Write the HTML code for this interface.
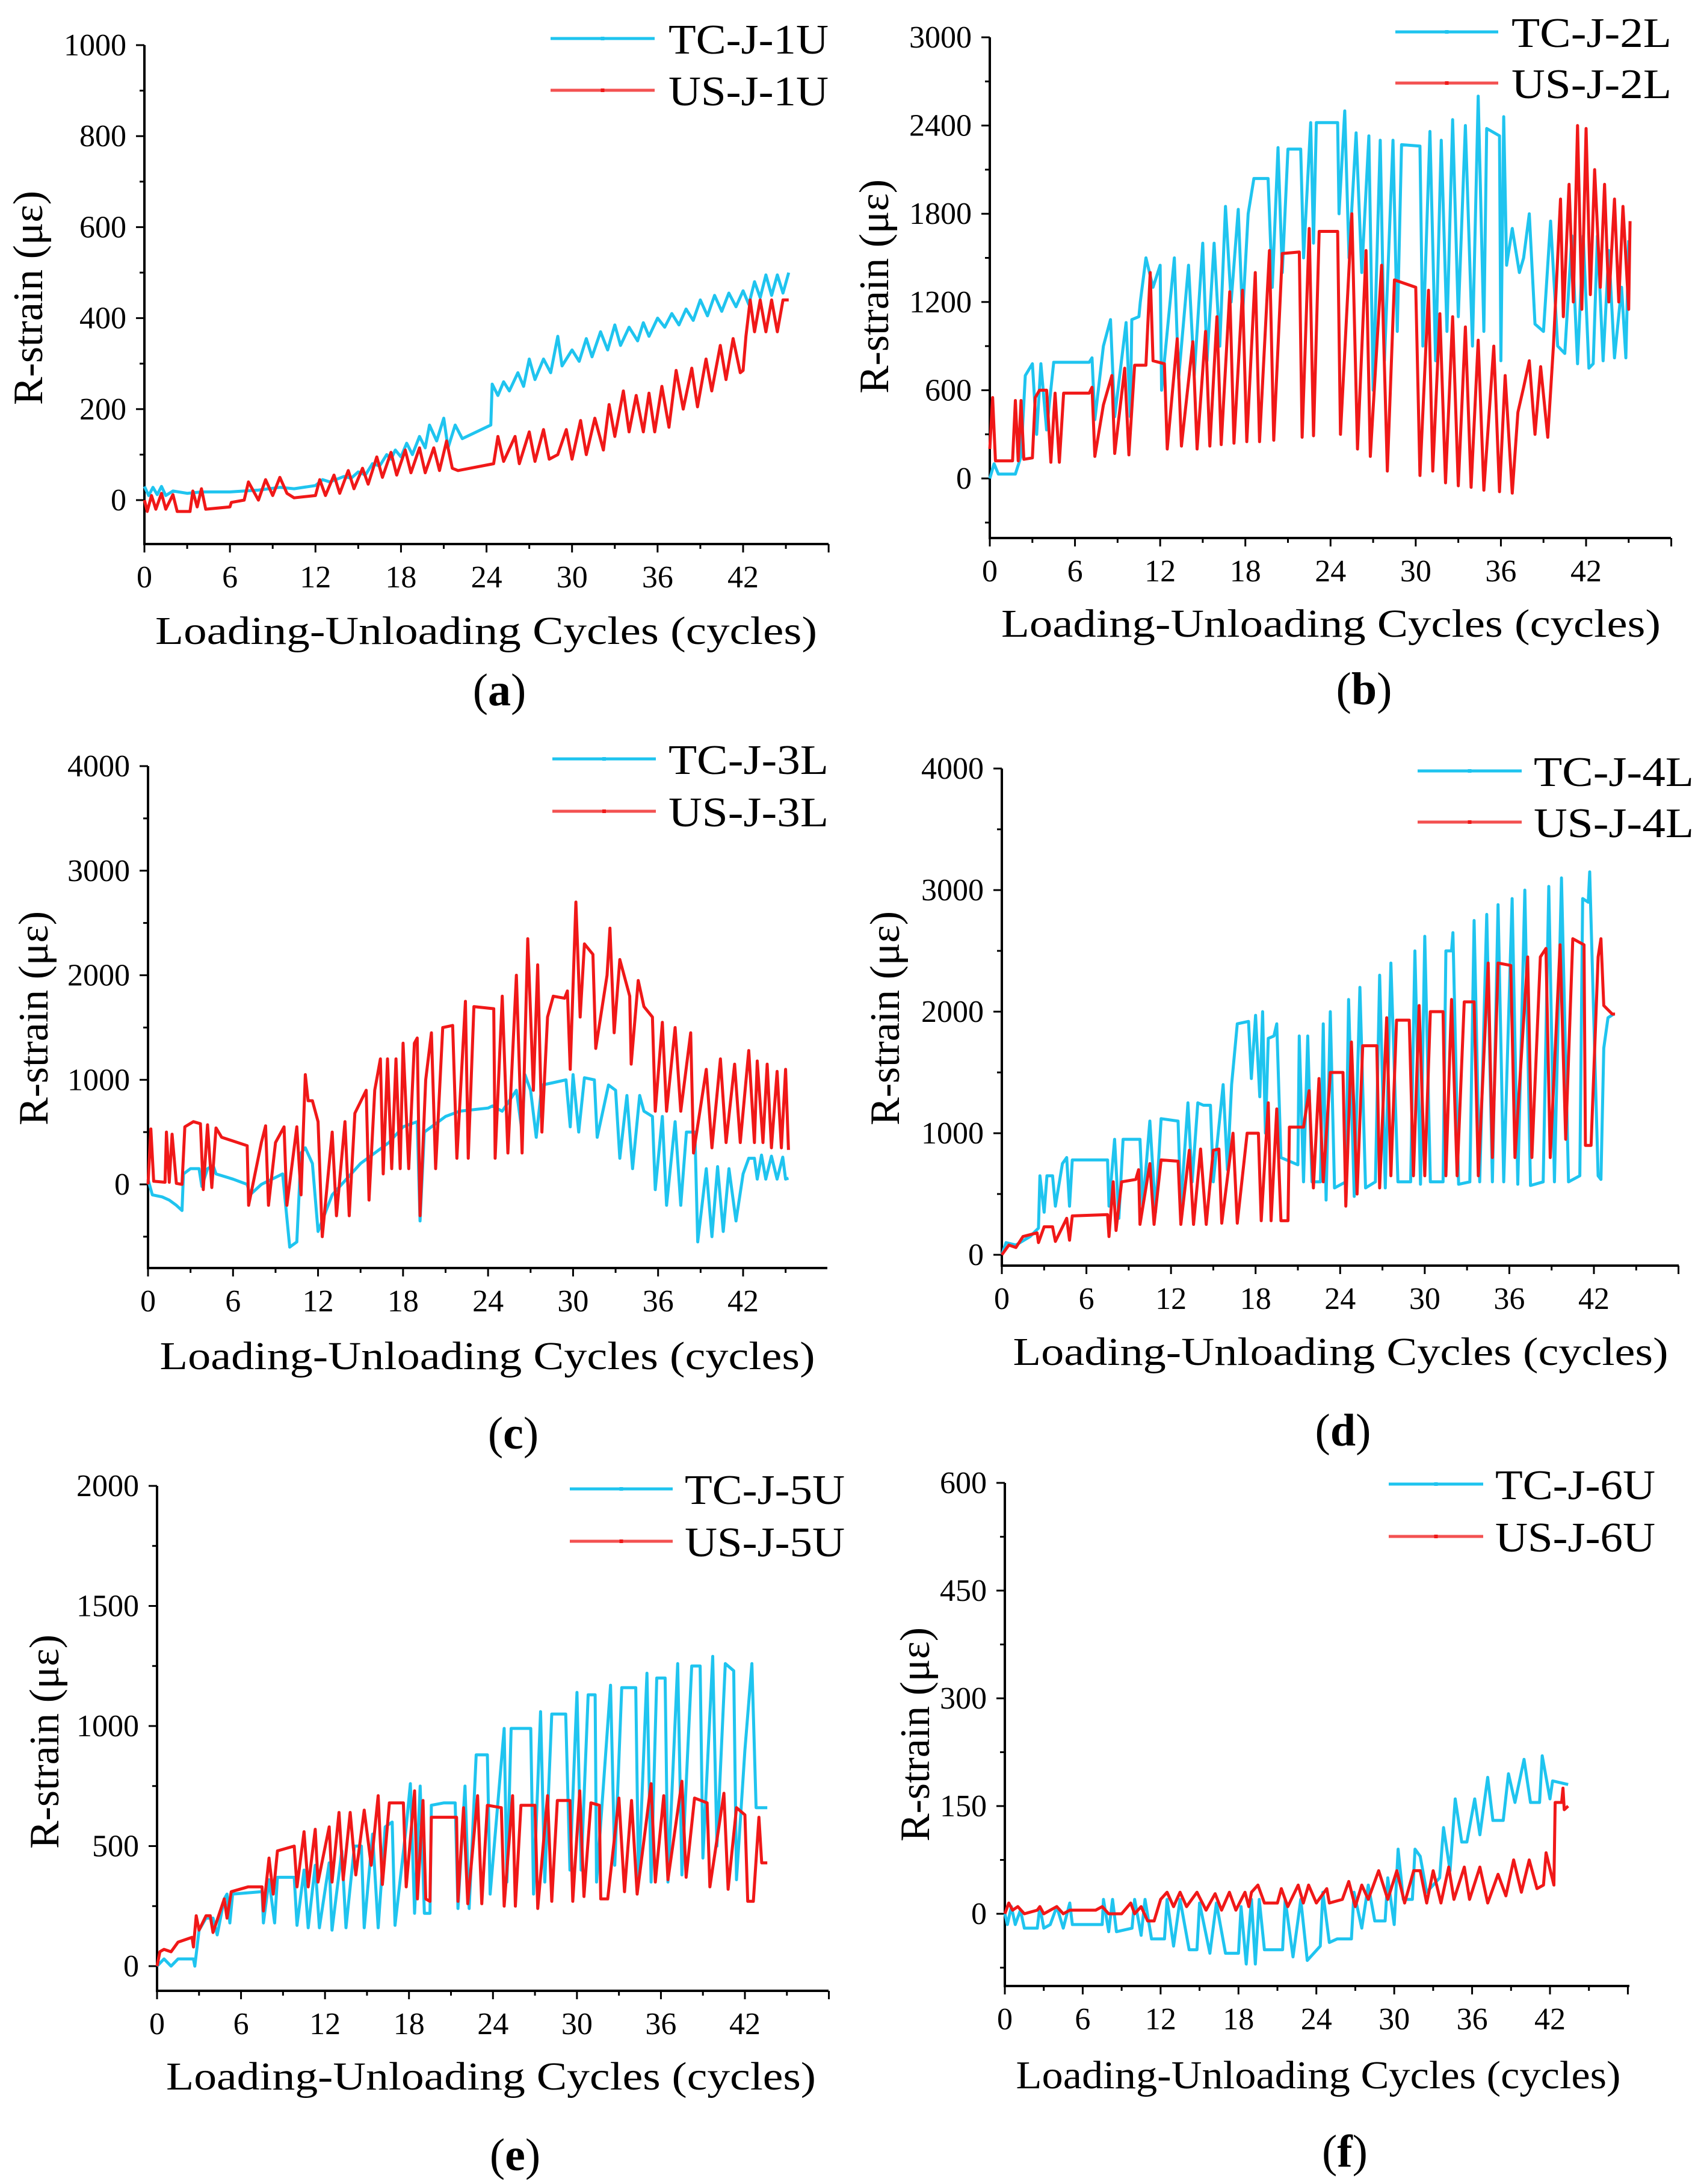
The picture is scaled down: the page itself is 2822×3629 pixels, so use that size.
<!DOCTYPE html>
<html><head><meta charset="utf-8"><style>
html,body{margin:0;padding:0;background:#fff}
svg{display:block}
text{font-family:"Liberation Serif",serif;fill:#000}
</style></head><body>
<svg id="fig" width="2822" height="3629" viewBox="0 0 2822 3629" xmlns="http://www.w3.org/2000/svg" font-family="Liberation Serif, serif"></svg>
<script>
// ---------- DATA: [cycle, strain(με)] ----------
const aTC=[[0,30],[0.3,10],[0.6,28],[0.9,12],[1.2,30],[1.5,10],[2,20],[3,15],[4,18],[6,18],[8,22],[9.5,28],[10.5,25],[12,32],[12.5,45],[13,40],[14,52],[14.5,48],[15,62],[15.5,55],[16,80],[16.5,75],[17,100],[17.3,90],[17.6,110],[18,95],[18.4,125],[18.8,100],[19.3,140],[19.7,115],[20,165],[20.5,130],[21,180],[21.3,115],[21.8,165],[22.3,135],[24.3,165],[24.4,255],[24.8,230],[25.2,260],[25.6,240],[26.2,280],[26.6,250],[27,310],[27.4,265],[28,310],[28.5,280],[29,360],[29.3,295],[30,330],[30.5,305],[31,355],[31.4,315],[32,370],[32.5,330],[33,385],[33.4,340],[34,380],[34.6,350],[35,390],[35.4,360],[36,400],[36.5,380],[37,410],[37.5,385],[38,420],[38.5,395],[39,440],[39.5,405],[40,450],[40.5,415],[41,455],[41.5,425],[42,460],[42.4,430],[42.8,480],[43.2,445],[43.6,495],[44,450],[44.4,495],[44.8,455],[45.2,500]];
const aUS=[[0,0],[0.2,-25],[0.5,10],[0.8,-20],[1.2,15],[1.5,-20],[2,12],[2.3,-25],[3.2,-25],[3.4,20],[3.7,-15],[4,25],[4.3,-20],[6,-15],[6.1,-5],[7,0],[7.3,40],[8,0],[8.5,45],[9,10],[9.5,50],[10,15],[10.5,5],[12,10],[12.3,45],[12.7,10],[13.3,55],[13.7,15],[14.3,65],[14.7,25],[15.3,70],[15.7,35],[16.3,95],[16.7,50],[17.3,105],[17.7,55],[18.3,110],[18.7,60],[19.3,115],[19.7,60],[20.3,115],[20.7,65],[21.2,130],[21.6,70],[22,65],[24.5,80],[24.8,140],[25.2,85],[26,140],[26.3,80],[27,150],[27.4,85],[28,155],[28.4,90],[29,100],[29.6,155],[30,90],[30.6,175],[31,100],[31.6,180],[32.2,110],[32.6,210],[33,140],[33.6,240],[34,150],[34.5,230],[35,150],[35.4,235],[35.8,150],[36.3,250],[36.8,160],[37.3,285],[37.8,200],[38.4,290],[38.8,205],[39.4,310],[39.8,240],[40.4,340],[40.8,265],[41.3,355],[41.8,280],[42,285],[42.2,360],[42.5,440],[42.8,370],[43.2,440],[43.6,370],[44,440],[44.4,370],[44.8,440],[45.2,440]];
const bTC=[[0,0],[0.3,100],[0.6,30],[1.8,30],[2.2,150],[2.5,700],[3,780],[3.3,300],[3.6,780],[4,330],[4.5,790],[7,790],[7.2,820],[7.4,400],[8,900],[8.5,1080],[8.8,420],[9.6,1060],[9.9,420],[10,1080],[10.5,1100],[10.6,1200],[11,1500],[11.5,1300],[12,1450],[12.1,600],[13,1500],[13.3,680],[14,1450],[14.4,700],[15,1600],[15.3,800],[15.8,1600],[16.2,900],[16.6,1850],[17,1200],[17.5,1830],[17.8,1100],[18.2,1800],[18.6,2040],[19.6,2040],[19.9,1300],[20.3,2250],[20.6,1400],[21,2240],[21.9,2240],[22.1,1500],[22.6,2420],[22.8,1600],[23,2420],[24.5,2420],[24.6,1800],[25,2500],[25.3,1500],[25.8,2350],[26.2,1400],[26.7,2330],[27,600],[27.5,2300],[27.8,800],[28.4,2300],[28.7,1000],[29,2270],[30.3,2260],[30.5,900],[31,2360],[31.4,800],[31.8,2300],[32.2,1000],[32.6,2440],[33,1100],[33.5,2400],[34,900],[34.4,2600],[34.8,1000],[35,2380],[35.9,2330],[36,800],[36.2,2460],[36.4,1450],[36.8,1700],[37.3,1400],[37.6,1500],[38,1800],[38.4,1050],[39,1000],[39.5,1750],[40,900],[40.5,850],[41,1650],[41.4,780],[41.8,1650],[42.2,750],[42.5,780],[42.8,1650],[43.2,800],[43.6,1550],[44,820],[44.5,1300],[44.8,820],[45,1620]];
const bUS=[[0,200],[0.2,550],[0.4,120],[1.6,120],[1.8,530],[2,120],[2.2,530],[2.4,130],[3,140],[3.2,550],[3.5,600],[4,600],[4.3,110],[4.6,580],[4.9,110],[5.2,580],[7,580],[7.2,620],[7.4,150],[8,500],[8.6,700],[8.8,170],[9.5,750],[9.8,160],[10.2,770],[11,770],[11.3,1400],[11.5,800],[12.3,780],[12.5,200],[13.2,950],[13.5,220],[14.3,930],[14.6,200],[15.2,1000],[15.5,220],[16,1100],[16.3,230],[16.9,1270],[17.2,240],[17.8,1280],[18.1,250],[18.7,1400],[19,250],[19.7,1550],[20,260],[20.6,1530],[21.8,1540],[22,280],[22.5,1700],[22.8,290],[23.2,1680],[24.5,1680],[24.7,300],[25.5,1800],[25.9,200],[26.5,1550],[26.8,150],[27.6,1450],[28,50],[28.5,1350],[30,1300],[30.3,20],[30.9,1280],[31.2,50],[31.7,1120],[32.1,-30],[32.6,1100],[33,-50],[33.5,1030],[33.9,-60],[34.4,940],[34.8,-80],[35.5,900],[35.9,-90],[36.3,700],[36.8,-100],[37.2,450],[37.6,620],[38,800],[38.4,300],[38.8,760],[39.3,280],[39.7,900],[40.2,1900],[40.4,1100],[40.8,2000],[41.1,1200],[41.4,2400],[41.7,1150],[42,2380],[42.3,1250],[42.6,2100],[43,1300],[43.3,2000],[43.6,1200],[44,1900],[44.3,1200],[44.6,1850],[45,1150],[45.1,1750]];
const cTC=[[0,50],[0.3,-100],[1,-120],[1.5,-150],[2,-200],[2.4,-250],[2.5,100],[3,150],[3.6,150],[3.8,-20],[4.2,150],[4.6,180],[4.8,100],[6,50],[7,0],[7.2,-100],[8,0],[9.5,100],[10,-600],[10.5,-550],[10.8,300],[11.1,350],[11.6,200],[12,-450],[13,-100],[14,50],[15,200],[16,300],[17,400],[18,550],[19,600],[19.2,-350],[19.5,500],[20.5,600],[21,650],[22,700],[24,730],[24.3,750],[25,700],[26,900],[26.4,500],[26.6,1050],[27,900],[27.4,450],[27.8,950],[28.5,970],[29.5,1000],[29.8,550],[30,1050],[30.4,500],[30.8,1020],[31.5,1000],[31.7,450],[32.5,950],[33,900],[33.3,250],[33.8,850],[34.2,150],[34.7,850],[35,700],[35.6,650],[35.8,-50],[36.3,650],[36.6,-200],[37.2,600],[37.6,-200],[38,500],[38.6,500],[38.8,-550],[39.4,150],[39.8,-500],[40.2,170],[40.6,-450],[41,150],[41.5,-350],[42,100],[42.4,250],[42.8,250],[43,50],[43.3,280],[43.6,50],[44,270],[44.4,50],[44.8,260],[45,50],[45.2,60]];
const cUS=[[0,0],[0.2,530],[0.4,30],[1.2,20],[1.3,500],[1.5,20],[1.7,480],[2,10],[2.4,0],[2.6,550],[3.2,600],[3.7,580],[3.9,-50],[4.2,570],[4.5,-30],[4.8,540],[5.2,450],[7,370],[7.1,-200],[8,400],[8.3,560],[8.5,-200],[9,400],[9.6,550],[9.8,-200],[10.5,550],[10.8,-100],[11.1,1050],[11.3,800],[11.6,800],[12,600],[12.3,-500],[13,500],[13.3,-300],[13.9,600],[14.2,-300],[14.6,680],[15.4,900],[15.6,-150],[16,900],[16.4,1200],[16.6,100],[16.9,1200],[17.2,150],[17.5,1200],[17.8,150],[18,1350],[18.4,150],[18.8,1350],[19,1400],[19.2,-300],[19.6,1000],[20,1450],[20.3,150],[20.8,1500],[21.5,1520],[21.8,250],[22.4,1750],[22.6,250],[23,1700],[24.4,1680],[24.5,250],[25,1800],[25.4,300],[26,2000],[26.4,300],[26.8,2350],[27.2,900],[27.5,2100],[27.8,500],[28.2,1600],[28.6,1800],[29.4,1780],[29.6,1850],[29.8,1100],[30.2,2700],[30.5,1600],[30.8,2300],[31.4,2200],[31.6,1300],[32.4,2000],[32.6,2450],[32.9,1450],[33.3,2150],[34,1800],[34.1,1150],[34.6,1950],[35,1700],[35.6,1600],[35.8,700],[36.3,1550],[36.6,700],[37.2,1500],[37.6,700],[38.3,1450],[38.5,300],[39.4,1100],[39.8,350],[40.4,1200],[40.8,400],[41.4,1150],[41.8,400],[42.4,1280],[42.8,400],[43,1180],[43.4,400],[43.7,1150],[44,350],[44.4,1080],[44.7,350],[45,1100],[45.2,330]];
const dTC=[[0,0],[0.3,100],[1,80],[2,150],[2.6,220],[2.7,650],[3,350],[3.2,650],[3.6,650],[3.8,400],[4.3,750],[4.6,800],[4.8,400],[5,780],[7.5,780],[7.6,400],[8,950],[8.3,300],[8.6,950],[9.8,950],[10,400],[10.5,1100],[10.9,350],[11.3,1120],[12.5,1100],[12.7,400],[13.2,1250],[13.5,600],[13.9,1250],[14.3,1230],[14.8,1230],[15,600],[15.7,1400],[16,700],[16.3,1400],[16.7,1900],[17.5,1920],[17.7,1450],[18,1970],[18.3,1300],[18.5,2000],[18.7,1000],[18.9,1780],[19.3,1800],[19.5,1900],[19.8,800],[21,740],[21.1,1800],[21.4,600],[21.7,1800],[22,600],[22.6,600],[22.8,1900],[23,450],[23.3,2000],[23.6,550],[24.4,600],[24.6,2100],[25,480],[25.4,2200],[25.8,550],[26.5,600],[26.8,2300],[27.2,550],[27.6,2400],[28.1,600],[29,600],[29.3,2500],[29.7,580],[30,2620],[30.4,600],[31.3,600],[31.5,2500],[31.9,2500],[32,2650],[32.4,580],[33.2,600],[33.5,2750],[33.9,600],[34.4,2800],[34.8,600],[35.2,2880],[35.6,600],[36.2,2930],[36.6,580],[37.1,3000],[37.5,570],[38.4,600],[38.8,3030],[39.2,600],[39.7,3100],[40.2,600],[41,650],[41.2,2930],[41.6,2900],[41.7,3150],[42.3,650],[42.5,620],[42.7,1700],[43,1950],[43.4,1980]];
const dUS=[[0,0],[0.5,80],[1,60],[1.5,150],[2.5,180],[2.6,100],[3,230],[3.6,230],[3.8,110],[4.6,300],[4.8,120],[5,320],[7.5,330],[7.6,150],[7.9,600],[8.1,200],[8.5,600],[9.5,620],[9.7,700],[9.8,250],[10.5,750],[10.8,250],[11.3,780],[12.5,770],[12.7,250],[13.3,860],[13.6,250],[14.1,870],[14.5,250],[15,860],[15.4,870],[15.6,260],[16.4,1000],[16.7,260],[17.4,1000],[18.2,1000],[18.4,280],[18.9,1250],[19.1,280],[19.5,1200],[19.8,280],[20.3,280],[20.4,1050],[21.4,1050],[21.8,1350],[22.1,550],[22.5,1450],[22.8,600],[23.3,1500],[24.2,1500],[24.4,400],[24.8,1750],[25.2,500],[25.6,1720],[26.6,1720],[26.8,550],[27.3,1950],[27.6,650],[28,1930],[28.9,1930],[29.2,650],[29.6,2050],[30,650],[30.4,2000],[31.3,2000],[31.5,650],[31.9,2100],[32.3,650],[32.8,2080],[33.5,2080],[33.8,650],[34.5,2400],[34.8,800],[35.2,2400],[36.1,2380],[36.4,800],[37.3,2450],[37.6,800],[38.2,2450],[38.6,2520],[38.9,800],[39.6,2550],[40,950],[40.5,2600],[41.3,2550],[41.4,900],[41.8,900],[42.3,2450],[42.5,2600],[42.7,2050],[43.3,1980],[43.5,1980]];
const eTC=[[0,0],[0.5,30],[1,0],[1.5,30],[2.6,30],[2.7,0],[3,150],[3.5,200],[4,200],[4.3,130],[4.8,280],[5,300],[5.2,180],[5.4,300],[7.5,310],[7.6,180],[8,360],[8.4,180],[8.6,370],[9.8,370],[10,170],[10.5,400],[10.8,160],[11.3,420],[11.6,160],[12.3,430],[12.5,150],[13.2,480],[13.5,160],[14.1,500],[14.6,500],[14.8,160],[15.4,550],[15.8,160],[16.3,580],[16.8,600],[17,170],[17.8,580],[18.1,760],[18.4,220],[18.8,750],[19.1,220],[19.5,220],[19.6,670],[20.5,680],[21.3,680],[21.5,240],[22,750],[22.3,240],[22.8,880],[23.6,880],[23.8,300],[24.8,990],[25,350],[25.3,990],[26.7,990],[26.9,300],[27.4,1060],[27.7,350],[28.2,1050],[29.2,1050],[29.5,400],[30,1140],[30.3,400],[30.8,1130],[31.3,1130],[31.4,350],[32.4,1170],[32.7,420],[33.2,1160],[34.2,1160],[34.4,350],[35,1220],[35.3,350],[35.7,1200],[36.3,1200],[36.5,350],[37.2,1260],[37.5,380],[38.2,1250],[38.8,1250],[39,450],[39.7,1290],[40,500],[40.6,1260],[41.2,1230],[41.4,360],[42,900],[42.5,1260],[42.8,660],[43.6,660]];
const eUS=[[0,0],[0.2,60],[0.5,70],[1,60],[1.5,100],[2.5,120],[2.6,80],[2.8,210],[3,150],[3.5,210],[3.8,210],[4,140],[4.8,280],[5,200],[5.3,310],[6.5,330],[7.5,330],[7.6,230],[8,450],[8.3,300],[8.6,480],[9.8,500],[10,330],[10.5,560],[10.8,330],[11.3,570],[11.5,350],[12.3,580],[12.5,350],[13,640],[13.3,360],[13.8,640],[14.2,380],[14.8,650],[15.3,420],[15.8,710],[16.1,340],[16.6,680],[17.6,680],[17.8,330],[18.4,730],[18.6,280],[19,690],[19.2,280],[19.5,270],[19.6,620],[21.4,620],[21.5,270],[21.9,660],[22.2,260],[22.9,710],[23.2,260],[23.6,670],[24.6,660],[24.8,250],[25.4,710],[25.6,250],[26,670],[27,670],[27.2,240],[27.9,710],[28.2,270],[28.6,690],[29.5,690],[29.7,270],[30.2,730],[30.5,290],[31,680],[31.6,670],[31.7,280],[32.2,280],[33,700],[33.4,310],[33.9,690],[34.3,300],[35.3,760],[35.6,350],[36.2,710],[36.5,360],[37.5,770],[37.8,370],[38.4,700],[39.3,680],[39.5,330],[40.5,720],[40.8,320],[41.4,660],[42,630],[42.2,270],[42.6,270],[43,620],[43.2,430],[43.6,430]];
const fTC=[[0,0],[0.2,-15],[0.5,10],[0.8,-15],[1.2,5],[1.5,-20],[2.5,-20],[2.7,10],[3,-20],[3.5,-15],[4,10],[4.5,-20],[5,15],[5.2,-15],[7.5,-15],[7.6,20],[8,-25],[8.3,20],[8.6,-25],[9.8,-20],[10,20],[10.5,-30],[10.8,20],[11.3,-35],[12.3,-35],[12.5,20],[13,-45],[13.5,20],[14.2,-50],[14.8,-50],[15,15],[15.8,-55],[16.3,15],[17,-55],[18,-55],[18.2,10],[18.6,-70],[19,20],[19.3,-70],[19.6,20],[20,-50],[21.4,-50],[21.6,20],[22.2,-60],[22.8,20],[23.3,-65],[24.3,-45],[24.5,30],[25,-40],[25.6,-35],[26.7,-35],[26.9,30],[27.5,-20],[28,40],[28.5,-10],[29.3,-10],[29.5,50],[30,-15],[30.3,90],[30.7,20],[31.4,20],[31.6,90],[32,80],[32.5,30],[33.5,50],[33.8,120],[34.3,60],[34.7,160],[35.2,100],[35.6,100],[36.2,160],[36.6,110],[37.2,190],[37.6,130],[38.4,130],[38.8,195],[39.3,155],[40,215],[40.5,155],[41.2,155],[41.4,220],[42,160],[42.2,185],[43.4,180]];
const fUS=[[0,0],[0.3,15],[0.6,5],[1,10],[1.5,0],[2.5,5],[2.7,10],[3,0],[4,10],[4.5,0],[5,5],[7,5],[7.5,10],[8,0],[9,0],[9.7,15],[10,0],[10.5,10],[11,-10],[11.5,-10],[12,20],[12.5,30],[13,10],[13.5,30],[14,10],[14.8,30],[15.5,5],[16.2,28],[16.7,5],[17.3,30],[17.8,5],[18.5,30],[18.8,10],[19,30],[19.5,40],[20,15],[21,15],[21.3,35],[21.8,10],[22.6,40],[23,15],[23.4,40],[24,15],[24.8,35],[25,15],[26,20],[26.5,45],[27,10],[27.5,40],[28,20],[28.8,60],[29.5,20],[30.2,60],[30.8,15],[31.5,60],[32,60],[32.5,15],[33,60],[33.6,15],[34.2,65],[34.6,20],[35.4,65],[35.8,20],[36.6,65],[37.2,15],[38,55],[38.6,25],[39.2,75],[39.8,30],[40.4,75],[41,35],[41.5,40],[41.7,85],[42.3,40],[42.4,155],[42.9,155],[43,175],[43.1,145],[43.4,150]];
const xTicks=[0,6,12,18,24,30,36,42];
const aYTicks=[0,200,400,600,800,1000];
const bYTicks=[0,600,1200,1800,2400,3000];
const cYTicks=[0,1000,2000,3000,4000];
const dYTicks=[0,1000,2000,3000,4000];
const eYTicks=[0,500,1000,1500,2000];
const fYTicks=[0,150,300,450,600];
const legendNames=[["TC-J-1U","US-J-1U"],["TC-J-2L","US-J-2L"],["TC-J-3L","US-J-3L"],["TC-J-4L","US-J-4L"],["TC-J-5U","US-J-5U"],["TC-J-6U","US-J-6U"]];
const captions=["a","b","c","d","e","f"];

// ---------- LAYOUT ----------
const panels=[
 {id:"a",ax:240,x42:1235,xr:1377,y0:831,yTopPx:75,yTopV:1000,yb:904,minor:100,tc:aTC,us:aUS,ticks:aYTicks,leg:[915,1088,64,150,1111],yt:[46,495],xt:[808,1070,1100],cap:[830,1172]},
 {id:"b",ax:1645,x42:2636,xr:2777,y0:795,yTopPx:62,yTopV:3000,yb:894,minor:300,tc:bTC,us:bUS,ticks:bYTicks,leg:[2319,2490,53,138,2512],yt:[1452,476],xt:[2212,1058,1096],cap:[2267,1170]},
 {id:"c",ax:246,x42:1235,xr:1375,y0:1968,yTopPx:1273,yTopV:4000,yb:2107,minor:500,tc:cTC,us:cUS,ticks:cYTicks,leg:[918,1090,1261,1348,1111],yt:[55,1692],xt:[810,2275,1089],cap:[853,2407]},
 {id:"d",ax:1665,x42:2649,xr:2790,y0:2085,yTopPx:1277,yTopV:4000,yb:2103,minor:500,tc:dTC,us:dUS,ticks:dYTicks,leg:[2356,2529,1281,1366,2549],yt:[1470,1692],xt:[2228,2268,1089],cap:[2232,2402]},
 {id:"e",ax:261,x42:1238,xr:1377,y0:3267,yTopPx:2469,yTopV:2000,yb:3308,minor:250,tc:eTC,us:eUS,ticks:eYTicks,leg:[947,1118,2474,2561,1138],yt:[73,2894],xt:[816,3472,1080],cap:[856,3606]},
 {id:"f",ax:1670,x42:2576,xr:2708,y0:3180,yTopPx:2464,yTopV:600,yb:3300,minor:75,tc:fTC,us:fUS,ticks:fYTicks,leg:[2308,2465,2466,2553,2485],yt:[1520,2882],xt:[2191,3470,1005],cap:[2235,3600]}
];
const NS="http://www.w3.org/2000/svg";
const svg=document.getElementById("fig");
function mk(tag,attrs,parent){const e=document.createElementNS(NS,tag);for(const k in attrs)e.setAttribute(k,attrs[k]);(parent||svg).appendChild(e);return e;}
const CY="#1fc4ef",RD="#f01818";
panels.forEach((p,i)=>{
  const g=mk("g",{});
  
  
  const sx=c=>p.ax+(p.x42-p.ax)*c/42;
  const sy=v=>p.y0-(p.y0-p.yTopPx)*v/p.yTopV;
  const yMin=(p.yb-p.y0)/(p.y0-p.yTopPx)*-p.yTopV;
  const axes=mk("path",{d:`M${p.ax},${p.yTopPx}V${p.yb}H${p.xr}`,fill:"none",stroke:"#000","stroke-width":4},g);
  
  
  for(let c=0;c*(p.x42-p.ax)/42+p.ax<=p.xr+1;c+=3){
    const major=c%6===0;
    mk("line",{x1:sx(c),x2:sx(c),y1:p.yb,y2:p.yb+(major?14:8),stroke:"#000","stroke-width":3},g);
  }
  xTicks.forEach(c=>{
    const t=mk("text",{x:sx(c),y:p.yb+72,"font-size":52,"text-anchor":"middle","font-family":"Liberation Serif, serif"},g);
    t.textContent=c;
    
    
  });
  const step=p.minor;
  for(let v=Math.ceil(yMin/step)*step;v<=p.yTopV+0.01;v+=step){
    const major=p.ticks.includes(Math.round(v));
    mk("line",{x1:p.ax,x2:p.ax-(major?14:8),y1:sy(v),y2:sy(v),stroke:"#000","stroke-width":3},g);
  }
  p.ticks.forEach(v=>{
    const t=mk("text",{x:p.ax-30,y:sy(v)+17,"font-size":52,"text-anchor":"end","font-family":"Liberation Serif, serif"},g);
    t.textContent=v;
    
    
  });
  const pts=arr=>arr.map(d=>sx(d[0]).toFixed(1)+","+sy(d[1]).toFixed(1)).join(" ");
  const lc=mk("polyline",{points:pts(p.tc),fill:"none",stroke:CY,"stroke-width":5,"stroke-linejoin":"round"},g);
  
  
  const lr=mk("polyline",{points:pts(p.us),fill:"none",stroke:RD,"stroke-width":5,"stroke-linejoin":"round"},g);
  
  
  const L=p.leg;
  [[CY,L[2],legendNames[i][0]],[RD,L[3],legendNames[i][1]]].forEach(([col,y,name],k)=>{
    const le=mk("g",{},g);
    
    
    mk("line",{x1:L[0],x2:L[1],y1:y,y2:y,stroke:col,"stroke-width":5,opacity:k?0.75:1},le);
    mk("rect",{x:(L[0]+L[1])/2-3,y:y-3,width:6,height:6,fill:col},le);
    const t=mk("text",{x:L[4],y:y+25,"font-size":70,textLength:266,lengthAdjust:"spacingAndGlyphs","font-family":"Liberation Serif, serif"},le);
    t.textContent=name;
  });
  const yt=mk("text",{x:0,y:0,"font-size":70,"text-anchor":"middle",textLength:356,lengthAdjust:"spacingAndGlyphs","font-family":"Liberation Serif, serif",transform:`translate(${p.yt[0]+24},${p.yt[1]}) rotate(-90)`},g);
  yt.textContent="R-strain (με)";
  
  
  const xt=mk("text",{x:p.xt[0],y:p.xt[1],"font-size":66,"text-anchor":"middle",textLength:p.xt[2],lengthAdjust:"spacingAndGlyphs","font-family":"Liberation Serif, serif"},g);
  xt.textContent="Loading-Unloading Cycles (cycles)";
  
  
  const cap=mk("text",{x:p.cap[0],y:p.cap[1],"font-size":76,"text-anchor":"middle","font-family":"Liberation Serif, serif"},g);
  cap.innerHTML='(<tspan font-weight="bold">'+captions[i]+'</tspan>)';
  
  
});
</script>
</body></html>
